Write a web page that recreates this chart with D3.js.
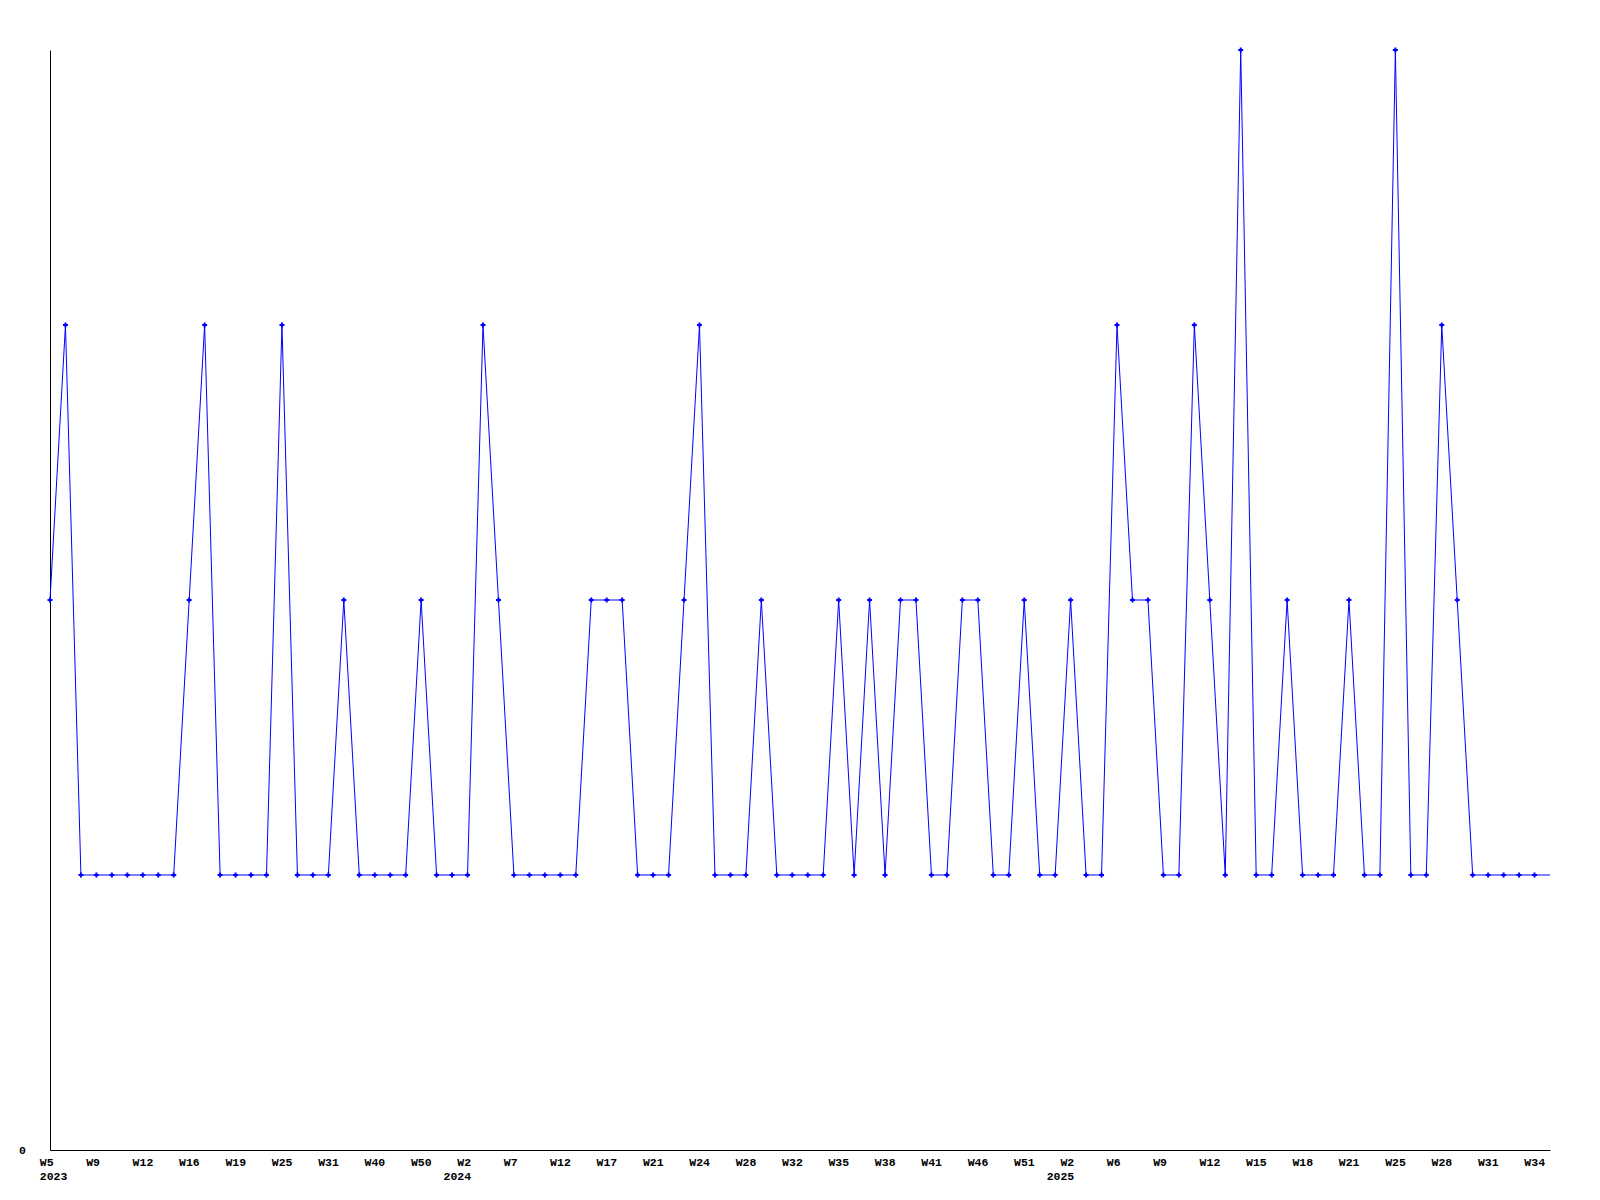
<!DOCTYPE html>
<html>
<head>
<meta charset="utf-8">
<script src="https://cdn.jsdelivr.net/npm/d3@7"></script>
<style>
  html, body { margin: 0; padding: 0; background: #fff; }
  svg { display: block; }
  .lbl { font-family: "Liberation Mono", "DejaVu Sans Mono", monospace; font-weight: bold; font-size: 11.5px; fill: #000; }
</style>
</head>
<body>
<script>
// ---- data ----
const weeks = [
  "W5","W6","W7","W9","W10","W11","W12","W13","W14","W16","W17","W18",
  "W19","W21","W23","W25","W27","W29","W31","W34","W37","W40","W43","W47",
  "W50","W51","W52","W2","W4","W5","W7","W9","W10","W12","W14","W15",
  "W17","W18","W19","W21","W22","W23","W24","W25","W26","W28","W29","W30",
  "W32","W33","W34","W35","W36","W37","W38","W39","W40","W41","W43","W44",
  "W46","W48","W49","W51","W52","W1","W2","W3","W4","W6","W7","W8",
  "W9","W10","W11","W12","W13","W14","W15","W16","W17","W18","W19","W20",
  "W21","W22","W23","W25","W26","W27","W28","W29","W30","W31","W32","W33",
  "W34","W35"
];
const years = [
  "2023","2023","2023","2023","2023","2023","2023","2023","2023","2023","2023","2023",
  "2023","2023","2023","2023","2023","2023","2023","2023","2023","2023","2023","2023",
  "2023","2023","2023","2024","2024","2024","2024","2024","2024","2024","2024","2024",
  "2024","2024","2024","2024","2024","2024","2024","2024","2024","2024","2024","2024",
  "2024","2024","2024","2024","2024","2024","2024","2024","2024","2024","2024","2024",
  "2024","2024","2024","2024","2024","2025","2025","2025","2025","2025","2025","2025",
  "2025","2025","2025","2025","2025","2025","2025","2025","2025","2025","2025","2025",
  "2025","2025","2025","2025","2025","2025","2025","2025","2025","2025","2025","2025",
  "2025","2025"
];
const values = [
  2,3,1,1,1,1,1,1,1,2,3,1,
  1,1,1,3,1,1,1,2,1,1,1,1,
  2,1,1,1,3,2,1,1,1,1,1,2,
  2,2,1,1,1,2,3,1,1,1,2,1,
  1,1,1,2,1,2,1,2,2,1,1,2,
  2,1,1,2,1,1,2,1,1,3,2,2,
  1,1,3,2,1,4,1,1,2,1,1,1,
  2,1,1,4,1,1,3,2,1,1,1,1,
  1,1
];
const yTicks = [0];
const labelEvery = 3;

(function () {
  // ---- layout ----
  const W = 1600, H = 1200;
  const mLeft = 50, mRight = 1550, mTop = 50, mBottom = 1150;

  const svg = d3.select("body").append("svg").attr("width", W).attr("height", H);

  const idx = d3.range(values.length);
  const x = d3.scalePoint().domain(idx).range([mLeft, mRight]);
  const y = d3.scaleLinear().domain([0, 4]).range([mBottom, mTop]);

  // x axis
  const tickIdx = idx.filter(i => i % labelEvery === 0 && i < values.length - 1);
  const firstOfYear = new Set();
  const seen = new Set();
  tickIdx.forEach(i => { if (!seen.has(years[i])) { seen.add(years[i]); firstOfYear.add(i); } });

  const xAxis = d3.axisBottom(x).tickValues(tickIdx).tickSize(0).tickSizeOuter(0).tickFormat(() => "");
  const gx = svg.append("g").attr("transform", `translate(0,${mBottom})`).call(xAxis);
  gx.select(".domain").attr("stroke", "#000").attr("stroke-width", 1);
  gx.selectAll(".tick text").remove();
  gx.selectAll(".tick").each(function (i) {
    const g = d3.select(this);
    const wk = g.append("text").attr("class", "lbl").attr("text-anchor", "start")
      .attr("x", -10.7).attr("y", 16).text(weeks[i]);
    if (firstOfYear.has(i)) {
      const yr = g.append("text").attr("class", "lbl").attr("y", 30).text(years[i]);
      if (i === 0) {
        yr.attr("text-anchor", "start").attr("x", -10.7);
      } else {
        const wkRight = -10.7 + wk.node().getComputedTextLength();
        yr.attr("text-anchor", "end").attr("x", wkRight);
      }
    }
  });

  // y axis
  const yAxis = d3.axisLeft(y).tickValues(yTicks).tickSize(0).tickSizeOuter(0).tickPadding(24).tickFormat(d3.format("d"));
  const gy = svg.append("g").attr("transform", `translate(${mLeft},0)`).call(yAxis);
  gy.select(".domain").attr("stroke", "#000").attr("stroke-width", 1);
  gy.attr("font-family", null).attr("font-size", null);
  gy.selectAll(".tick text").attr("class", "lbl");

  // line
  const line = d3.line().x((d, i) => x(i)).y(d => y(d));
  svg.append("path").datum(values)
    .attr("fill", "none").attr("stroke", "#0000ff").attr("stroke-width", 1)
    .attr("d", line);

  // markers (last point drawn without marker, as in reference)
  const cross = "M-1,-2.5h2v1.5h1.5v2h-1.5v1.5h-2v-1.5h-1.5v-2h1.5z";
  svg.append("g").selectAll("path").data(values.slice(0, values.length - 1)).join("path")
    .attr("transform", (d, i) => `translate(${x(i)},${y(d)})`)
    .attr("d", cross).attr("fill", "#0000ff");
})();
</script>
</body>
</html>
